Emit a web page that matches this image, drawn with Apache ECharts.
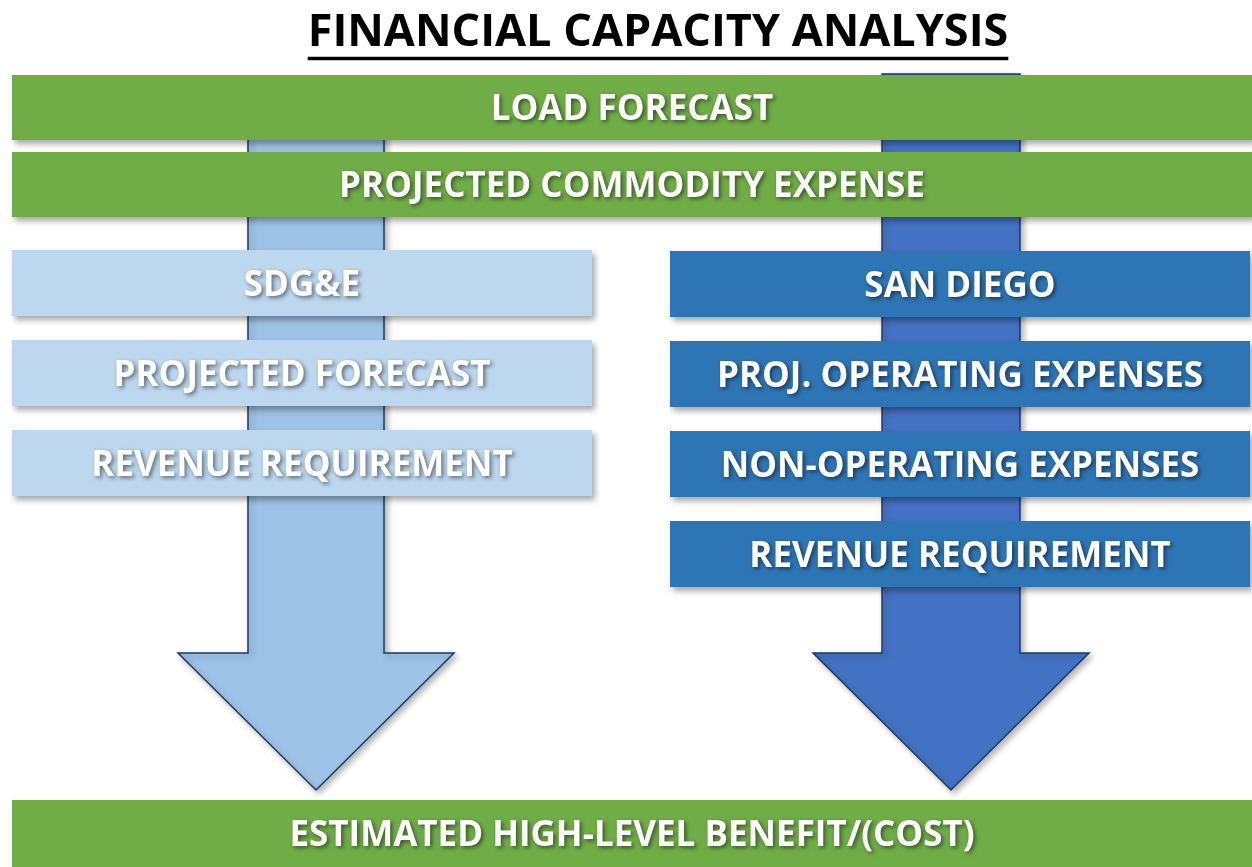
<!DOCTYPE html>
<html>
<head>
<meta charset="utf-8">
<script src="https://cdn.jsdelivr.net/npm/echarts@6/dist/echarts.min.js"></script>
<style>
html, body { margin:0; padding:0; background:#fff; }
#main { width:1252px; height:867px; }
</style>
</head>
<body>
<div id="main"></div>
<script>
// texts of the diagram
var title = 'FINANCIAL CAPACITY ANALYSIS';
var topBands = ['LOAD FORECAST', 'PROJECTED COMMODITY EXPENSE'];
var leftSteps = ['SDG&E', 'PROJECTED FORECAST', 'REVENUE REQUIREMENT'];
var rightSteps = ['SAN DIEGO', 'PROJ. OPERATING EXPENSES', 'NON-OPERATING EXPENSES', 'REVENUE REQUIREMENT'];
var bottomBand = ['ESTIMATED HIGH-LEVEL BENEFIT/(COST)'];

// layout (canvas units, y goes down)
var W = 1252, H = 867;
var FONT = 'bold 35px "Open Sans", "DejaVu Sans", sans-serif';
var GREEN = '#70AD47', LIGHT = '#BDD7EE', DARK = '#2E75B6';

function rows(labels, x0, x1, y0, step, h, color) {
	var ls = [];
	for (var i = 0; i < labels.length; i++) {
		ls.push([x0, x1, y0 + i * step, y0 + i * step + h, labels[i], color]);
	}
	return ls;
}

var boxes = []
	.concat(rows(topBands, 12, 1252, 75, 77, 65, GREEN))
	.concat(rows(leftSteps, 12, 592, 250, 90, 66, LIGHT))
	.concat(rows(rightSteps, 670, 1250, 251, 90, 66, DARK))
	.concat(rows(bottomBand, 12, 1252, 800, 0, 67, GREEN));

// arrows: [centre x, top y, shaft half width, head top y, head half width, tip y, fill]
var arrows = [
	[316, 80, 68, 653, 138, 790, '#9DC3E6'],
	[951, 74, 69, 653, 138, 790, '#4472C4']
];

function renderBox(params, api) {
	var d = boxes[params.dataIndex];
	var p0 = api.coord([d[0], d[2]]), p1 = api.coord([d[1], d[3]]);
	return {
		type: 'group',
		children: [{
			type: 'rect',
			shape: { x: p0[0], y: p0[1], width: p1[0] - p0[0], height: p1[1] - p0[1] },
			style: { fill: d[5], shadowBlur: 6, shadowOffsetX: 3, shadowOffsetY: 4, shadowColor: 'rgba(0,0,0,0.35)' }
		}, {
			type: 'text',
			x: (p0[0] + p1[0]) / 2, y: (p0[1] + p1[1]) / 2 + 3,
			style: {
				text: d[4], fill: '#fff', font: FONT, align: 'center', verticalAlign: 'middle',
				textShadowColor: 'rgba(0,0,0,0.5)', textShadowBlur: 4, textShadowOffsetX: 2, textShadowOffsetY: 2
			}
		}]
	};
}

function renderArrow(params, api) {
	var a = arrows[params.dataIndex];
	var pts = [
		[a[0] - a[2], a[1]], [a[0] + a[2], a[1]], [a[0] + a[2], a[3]], [a[0] + a[4], a[3]],
		[a[0], a[5]], [a[0] - a[4], a[3]], [a[0] - a[2], a[3]]
	].map(function (p) { return api.coord(p); });
	return {
		type: 'polygon',
		shape: { points: pts },
		style: { fill: a[6], stroke: '#1F3864', lineWidth: 1.5, shadowBlur: 6, shadowOffsetX: 3, shadowOffsetY: 3, shadowColor: 'rgba(0,0,0,0.3)' }
	};
}

// title underline from measured text width
var titleFont = 'bold 45px "Open Sans", "DejaVu Sans", sans-serif';
var ctx = document.createElement('canvas').getContext('2d');
ctx.font = titleFont;
var tw = ctx.measureText(title).width;
var tx = 658;

var chart = echarts.init(document.getElementById('main'));
chart.setOption({
	animation: false,
	grid: { left: 0, right: 0, top: 0, bottom: 0 },
	xAxis: { type: 'value', min: 0, max: W, show: false },
	yAxis: { type: 'value', min: 0, max: H, inverse: true, show: false },
	graphic: [{
		type: 'text', x: tx, y: 33,
		style: { text: title, font: titleFont, fill: '#000', align: 'center', verticalAlign: 'middle' }
	}, {
		type: 'line',
		shape: { x1: tx - tw / 2, y1: 58.5, x2: tx + tw / 2, y2: 58.5 },
		style: { stroke: '#000', lineWidth: 3.5 }
	}],
	series: [{
		type: 'custom', z: 1,
		data: arrows.map(function (a, i) { return i; }),
		renderItem: renderArrow
	}, {
		type: 'custom', z: 2,
		data: boxes.map(function (b, i) { return i; }),
		renderItem: renderBox
	}]
});
</script>
</body>
</html>
